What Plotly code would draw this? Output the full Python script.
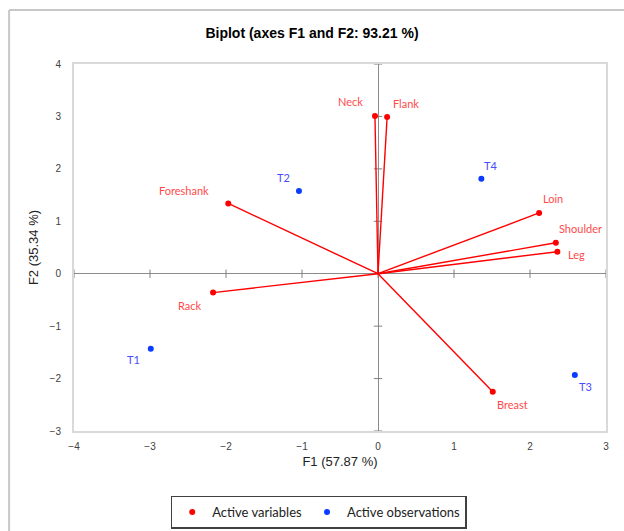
import plotly.graph_objects as go

# Variable loadings (F1, F2)
var_names = ["Neck", "Flank", "Foreshank", "Rack", "Loin", "Shoulder", "Leg", "Breast"]
var_f1 = [-0.04, 0.12, -1.97, -2.17, 2.12, 2.34, 2.36, 1.51]
var_f2 = [3.01, 2.99, 1.34, -0.36, 1.16, 0.59, 0.42, -2.25]

# Observation scores (F1, F2)
obs_names = ["T1", "T2", "T3", "T4"]
obs_f1 = [-2.99, -1.04, 2.59, 1.36]
obs_f2 = [-1.43, 1.58, -1.93, 1.81]

x_ticks = [-4, -3, -2, -1, 0, 1, 2, 3]
y_ticks = [-3, -2, -1, 0, 1, 2, 3, 4]

# Label offsets (pixels) for each point
var_offsets = {
    "Neck": (-24, -14), "Flank": (19, -13), "Foreshank": (-44, -13),
    "Rack": (-23, 13), "Loin": (14, -14), "Shoulder": (25, -14),
    "Leg": (19, 3), "Breast": (20, 13),
}
obs_offsets = {"T1": (-17, 11), "T2": (-15, -13), "T3": (11, 12), "T4": (9, -13)}

RED = "#ff0000"
RED_TXT = "#ff4a4a"
BLUE = "#0a3cff"
BLUE_TXT = "#4a4aff"
LABEL_FONT = "Lato, Open Sans, sans-serif"
AXIS_FONT = "Liberation Sans, Arial, sans-serif"

fig = go.Figure()

# Small tick marks along the zero lines
fig.add_trace(go.Scatter(
    x=[0] * len(y_ticks), y=y_ticks, mode="markers",
    marker=dict(symbol="line-ew", size=6, line=dict(color="#808080", width=1)),
    showlegend=False, hoverinfo="skip"))
fig.add_trace(go.Scatter(
    x=x_ticks, y=[0] * len(x_ticks), mode="markers",
    marker=dict(symbol="line-ns", size=6, line=dict(color="#808080", width=1)),
    showlegend=False, hoverinfo="skip"))

# Vectors from origin to each variable
for nm, x, y in zip(var_names, var_f1, var_f2):
    fig.add_trace(go.Scatter(
        x=[0, x], y=[0, y], mode="lines",
        line=dict(color=RED, width=1.4),
        showlegend=False, hoverinfo="skip"))

fig.add_trace(go.Scatter(
    x=var_f1, y=var_f2, mode="markers", name="Active variables",
    marker=dict(color=RED, size=6), text=var_names))
fig.add_trace(go.Scatter(
    x=obs_f1, y=obs_f2, mode="markers", name="Active observations",
    marker=dict(color=BLUE, size=6), text=obs_names))

annotations = []
for nm, x, y in zip(var_names, var_f1, var_f2):
    dx, dy = var_offsets[nm]
    annotations.append(dict(x=x, y=y, text=nm, showarrow=False, xshift=dx, yshift=-dy,
                            font=dict(family=LABEL_FONT, size=11, color=RED_TXT)))
for nm, x, y in zip(obs_names, obs_f1, obs_f2):
    dx, dy = obs_offsets[nm]
    annotations.append(dict(x=x, y=y, text=nm, showarrow=False, xshift=dx, yshift=-dy,
                            font=dict(family=LABEL_FONT, size=11, color=BLUE_TXT)))

fig.update_layout(
    width=624, height=531,
    margin=dict(l=74, r=18, t=64, b=100, autoexpand=False),
    paper_bgcolor="white", plot_bgcolor="white",
    title=dict(text="<b>Biplot (axes F1 and F2: 93.21 %)</b>",
               x=0.5, xanchor="center", y=0.938, yanchor="middle",
               font=dict(family=AXIS_FONT, size=14, color="#000000")),
    xaxis=dict(range=[-4, 3], tickvals=x_ticks, showgrid=False, automargin=False,
               zeroline=True, zerolinecolor="#8c8c8c", zerolinewidth=1.3,
               showline=True, linecolor="#d9d9d9", linewidth=2, mirror=True,
               ticks="", ticklabelstandoff=5,
               tickfont=dict(family=AXIS_FONT, size=10, color="#404040"),
               title=dict(text="F1 (57.87 %)", standoff=6,
                          font=dict(family=AXIS_FONT, size=13, color="#222222"))),
    yaxis=dict(range=[-3, 4], tickvals=y_ticks, showgrid=False, automargin=False,
               zeroline=True, zerolinecolor="#8c8c8c", zerolinewidth=1.3,
               showline=True, linecolor="#d9d9d9", linewidth=2, mirror=True,
               ticks="", ticklabelstandoff=9,
               tickfont=dict(family=AXIS_FONT, size=10, color="#404040"),
               title=dict(text="F2 (35.34 %)", standoff=8,
                          font=dict(family=AXIS_FONT, size=13, color="#222222"))),
    legend=dict(orientation="h", x=0.46, xanchor="center", y=-0.176, yanchor="top",
                bordercolor="#404040", borderwidth=1.5, bgcolor="white",
                font=dict(family=LABEL_FONT, size=13, color="#222222"),
                itemsizing="trace", itemwidth=30, tracegroupgap=0),
    annotations=annotations,
    showlegend=True,
    shapes=[
        dict(type="line", xref="paper", yref="paper", x0=-0.122, x1=1.2, y0=1.147, y1=1.147,
             line=dict(color="#c8c8c8", width=2)),
        dict(type="line", xref="paper", yref="paper", x0=-0.122, x1=-0.122, y0=1.147, y1=-0.4,
             line=dict(color="#c8c8c8", width=2)),
    ],
)

fig.write_html("out.html")
